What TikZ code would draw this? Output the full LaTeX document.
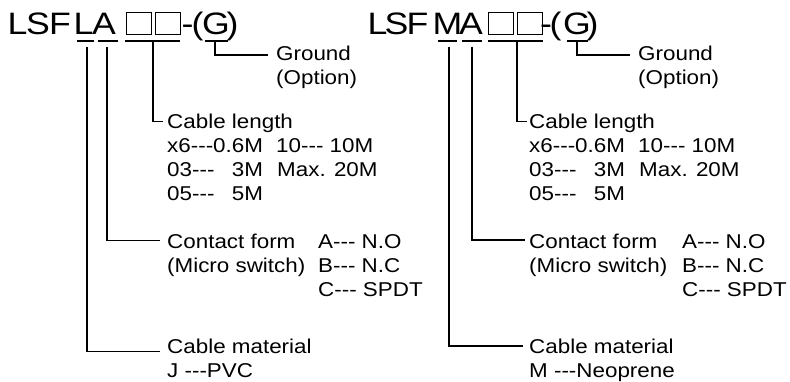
\documentclass[tikz,border=0pt]{standalone}
\usepackage{fontspec}
\usepackage{calc}
\newfontfamily\bodyfont{Liberation Sans}[FakeStretch=1.12]
\newfontfamily\titlefont{Liberation Sans}[FakeStretch=1.15]
\newcommand{\padrow}[2]{\makebox[\widthof{\bodyfont x6-{}-{}-0.6M}][s]{#1\hfill #2}}
\begin{document}
\begin{tikzpicture}[x=1pt,y=-1pt,
  ln/.style={line width=1.2pt, draw=black},
  ttl/.style={anchor=base, inner sep=0pt, text=black, font=\titlefont\fontsize{31}{36}\selectfont},
  lbl/.style={anchor=base west, inner sep=0pt, text=black, font=\bodyfont\fontsize{20}{24}\selectfont},
  sq/.style={draw=black, line width=1pt, inner sep=0pt, minimum width=25pt, minimum height=22pt}]
\useasboundingbox (0,0) rectangle (790,382);

% ---------------- left code: LSFLA ----------------
\node[ttl] (lt1) at (17.5,35) {L};
\node[ttl] (lt2) at (38,35) {S};
\node[ttl] (lt3) at (60,35) {F};
\node[ttl] (lt4) at (83.5,35) {L};
\node[ttl] (lt5) at (104,35) {A};
\node[sq] (lb1) at (139,24) {};
\node[sq] (lb2) at (168,24) {};
\node[ttl] (lt6) at (187.5,35) {-};
\node[ttl] (lt7) at (197.5,35) {(};
\node[ttl] (lt8) at (216,35) {G};
\node[ttl] (lt9) at (232.5,35) {)};

\coordinate (luLa) at (77,41);  \coordinate (luLb) at (94,41);
\coordinate (luAa) at (98,41);  \coordinate (luAb) at (118,41);
\coordinate (luBa) at (125,41); \coordinate (luBb) at (180,41);
\coordinate (luGa) at (205,41); \coordinate (luGb) at (228,41);
\draw[ln] (luLa) -- (luLb);
\draw[ln] (luAa) -- (luAb);
\draw[ln] (luBa) -- (luBb);
\draw[ln] (luGa) -- (luGb);

\node[lbl] (lg1) at (276,61) {Ground};
\node[lbl] (lg2) at (276,85) {(Option)};
\node[lbl] (lc1) at (167,129) {Cable length};
\node[lbl] (lc2) at (167,153) {x6---0.6M};
\node[lbl] (lc3) at (167,177) {\padrow{03---}{3M}};
\node[lbl] (lc4) at (167,201) {\padrow{05---}{5M}};
\node[lbl] (lc5) at (276,153) {10--- 10M};
\node[lbl] (lc6) at (277,177) {Max. 20M};
\node[lbl] (lf1) at (167,248.5) {Contact form};
\node[lbl] (lf2) at (167,272.5) {(Micro switch)};
\node[lbl] (lf3) at (318,248.5) {A--- N.O};
\node[lbl] (lf4) at (318,272.5) {B--- N.C};
\node[lbl] (lf5) at (318,296.5) {C--- SPDT};
\node[lbl] (lm1) at (167,353) {Cable material};
\node[lbl] (lm2) at (167,377) {J ---PVC};

\coordinate (lpL) at (87,47);   \coordinate (lqL) at (160,351.7);
\coordinate (lpA) at (107,47);  \coordinate (lqA) at (160,240.7);
\coordinate (lpB) at (153,41);  \coordinate (lqB) at (163,121.7);
\coordinate (lpG) at (215,41);  \coordinate (lqG) at (268,55);
\draw[ln] (lpL) |- (lqL);
\draw[ln] (lpA) |- (lqA);
\draw[ln] (lpB) |- (lqB);
\draw[ln] (lpG) |- (lqG);

% ---------------- right code: LSFMA ----------------
\node[ttl] (rt1) at (377.5,35) {L};
\node[ttl] (rt2) at (396.5,35) {S};
\node[ttl] (rt3) at (417.5,35) {F};
\node[ttl] (rt4) at (447.5,35) {M};
\node[ttl] (rt5) at (471,35) {A};
\node[sq] (rb1) at (500.5,24) {};
\node[sq] (rb2) at (529.5,24) {};
\node[ttl] (rt6) at (546,35) {-};
\node[ttl] (rt7) at (555.5,35) {(};
\node[ttl] (rt8) at (577,35) {G};
\node[ttl] (rt9) at (592.5,35) {)};

\coordinate (ruMa) at (438,41); \coordinate (ruMb) at (457,41);
\coordinate (ruAa) at (462,41); \coordinate (ruAb) at (482,41);
\coordinate (ruBa) at (488,41); \coordinate (ruBb) at (543,41);
\coordinate (ruGa) at (567,41); \coordinate (ruGb) at (588,41);
\draw[ln] (ruMa) -- (ruMb);
\draw[ln] (ruAa) -- (ruAb);
\draw[ln] (ruBa) -- (ruBb);
\draw[ln] (ruGa) -- (ruGb);

\node[lbl] (rg1) at (638,61) {Ground};
\node[lbl] (rg2) at (638,85) {(Option)};
\node[lbl] (rc1) at (529,129) {Cable length};
\node[lbl] (rc2) at (529,153) {x6---0.6M};
\node[lbl] (rc3) at (529,177) {\padrow{03---}{3M}};
\node[lbl] (rc4) at (529,201) {\padrow{05---}{5M}};
\node[lbl] (rc5) at (638,153) {10--- 10M};
\node[lbl] (rc6) at (639,177) {Max. 20M};
\node[lbl] (rf1) at (529,248.5) {Contact form};
\node[lbl] (rf2) at (529,272.5) {(Micro switch)};
\node[lbl] (rf3) at (682,248.5) {A--- N.O};
\node[lbl] (rf4) at (682,272.5) {B--- N.C};
\node[lbl] (rf5) at (682,296.5) {C--- SPDT};
\node[lbl] (rm1) at (529,353) {Cable material};
\node[lbl] (rm2) at (529,377) {M ---Neoprene};

\coordinate (rpM) at (449,47);  \coordinate (rqM) at (523,346);
\coordinate (rpA) at (472,47);  \coordinate (rqA) at (525,240);
\coordinate (rpB) at (517,41);  \coordinate (rqB) at (527,121.7);
\coordinate (rpG) at (577,41);  \coordinate (rqG) at (630,55);
\draw[ln] (rpM) |- (rqM);
\draw[ln] (rpA) |- (rqA);
\draw[ln] (rpB) |- (rqB);
\draw[ln] (rpG) |- (rqG);
\end{tikzpicture}
\end{document}
